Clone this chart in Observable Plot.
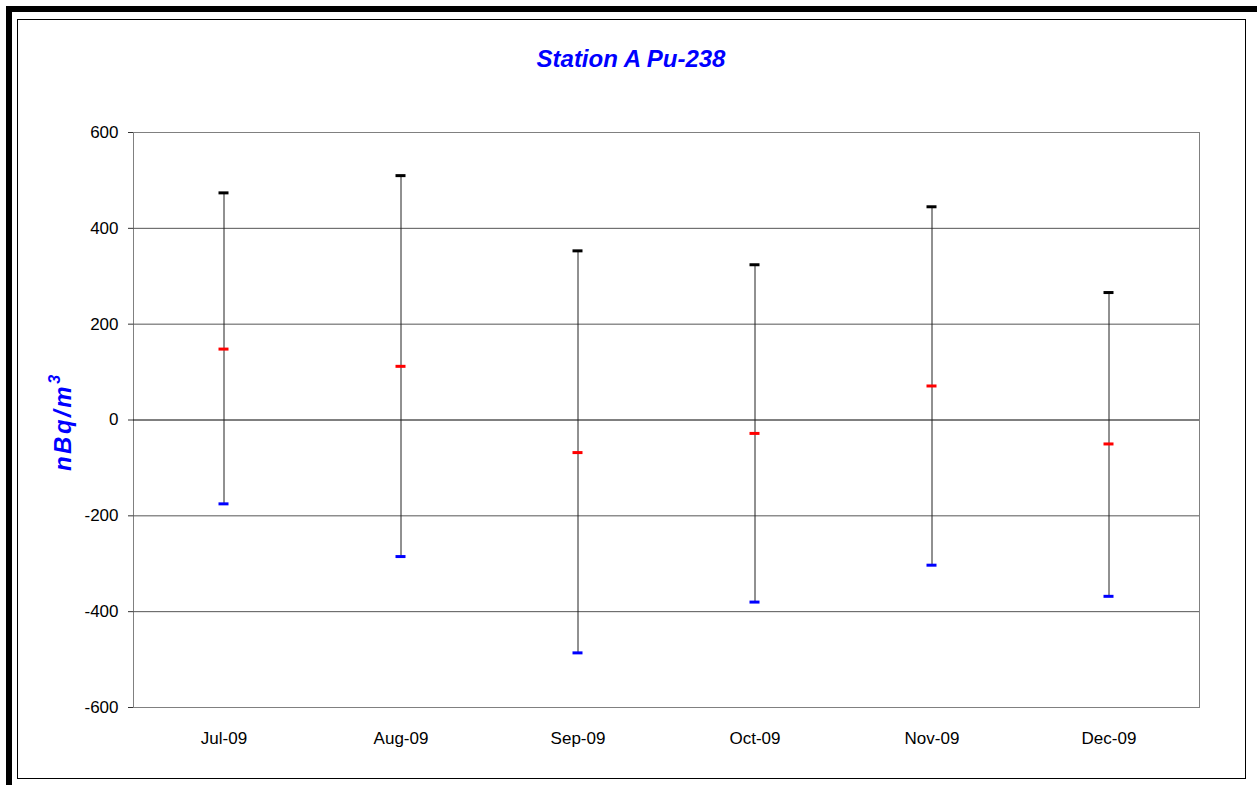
<!DOCTYPE html>
<html>
<head>
<meta charset="utf-8">
<script src="https://cdn.jsdelivr.net/npm/d3@7"></script>
<script src="https://cdn.jsdelivr.net/npm/@observablehq/plot@0.6"></script>
<style>
  html, body { margin: 0; padding: 0; background: #fff; overflow: hidden; }
  #wrap { position: relative; width: 1257px; height: 785px; font-family: "Liberation Sans", Arial, sans-serif; }
  #chart { position: absolute; left: 0; top: 0; }
  #outer { position: absolute; left: 6px; top: 6px; width: 1245px; height: 800px; border: 6px solid #000; box-sizing: content-box; pointer-events: none; }
  #inner { position: absolute; left: 17px; top: 19px; width: 1227px; height: 758px; border: 1.5px solid #000; pointer-events: none; }
  #title { position: absolute; left: 0; width: 1262px; top: 45px; text-align: center; font-weight: bold; font-style: italic; font-size: 24px; line-height: 28px; color: #0000ff; }
  #ylabel { position: absolute; left: 63px; top: 423px; transform: translate(-50%, -50%) rotate(-90deg); font-weight: bold; font-style: italic; font-size: 24px; letter-spacing: 2.5px; color: #0000ff; white-space: nowrap; }
  #ylabel sup { font-size: 16px; vertical-align: 11px; line-height: 0; letter-spacing: 0; }
</style>
</head>
<body>
<div id="wrap">
  <div id="chart"></div>
  <div id="title">Station A Pu-238</div>
  <div id="ylabel">nBq/m<sup>3</sup></div>
  <div id="outer"></div>
  <div id="inner"></div>
</div>
<script>
const months = ["Jul-09", "Aug-09", "Sep-09", "Oct-09", "Nov-09", "Dec-09"];
const highValues = [474, 510, 353, 324, 445, 266];
const midValues = [148, 112, -68, -28, 71, -50];
const lowValues = [-175, -285, -486, -380, -303, -368];
const yTicks = [-600, -400, -200, 0, 200, 400, 600];

const data = months.map((m, i) => ({ month: m, high: highValues[i], mid: midValues[i], low: lowValues[i] }));

const plot = Plot.plot({
  width: 1257,
  height: 785,
  marginLeft: 133,
  marginRight: 58,
  marginTop: 132,
  marginBottom: 78,
  style: { background: "transparent", fontFamily: "'Liberation Sans', Arial, sans-serif", fontSize: "17px", color: "#000" },
  x: { type: "band", domain: months, padding: 0 },
  y: { domain: [-600, 600] },
  marks: [
    Plot.frame({ stroke: "#808080" }),
    Plot.ruleY(yTicks.filter(v => v !== 0 && Math.abs(v) !== 600), { stroke: "#555" }),
    Plot.ruleY([0], { stroke: "#000" }),
    Plot.axisY(yTicks, { tickSize: 5, tickPadding: 10, line: true, stroke: "#333", fill: "#000", fontSize: 17, label: null, tickFormat: d => String(d) }),
    Plot.axisX({ tickSize: 0, tickPadding: 24, fontSize: 17, fill: "#000", label: null }),
    Plot.ruleX(data, { x: "month", y1: "low", y2: "high", stroke: "#222", strokeWidth: 1 }),
    Plot.tickY(data, { x: "month", y: "high", stroke: "#000", strokeWidth: 3, inset: 83.5 }),
    Plot.tickY(data, { x: "month", y: "mid", stroke: "#ff0000", strokeWidth: 3, inset: 83.5 }),
    Plot.tickY(data, { x: "month", y: "low", stroke: "#0000ff", strokeWidth: 3, inset: 83.5 })
  ]
});
document.getElementById("chart").appendChild(plot);
</script>
</body>
</html>
